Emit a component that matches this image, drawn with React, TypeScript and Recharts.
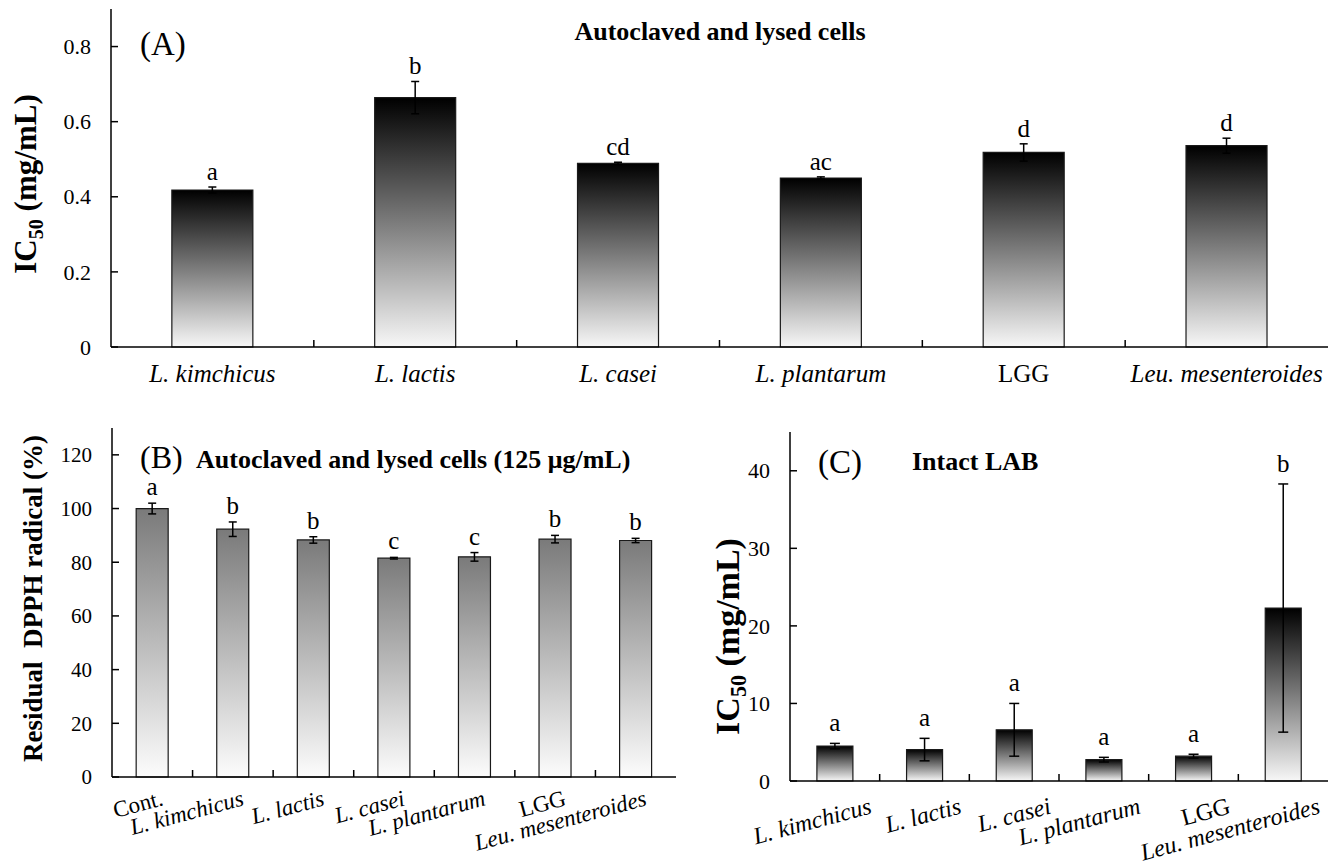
import React from 'react';
import { BarChart, Bar, XAxis, YAxis, ErrorBar, LabelList } from 'recharts';

const FONT = "'Liberation Serif', 'Times New Roman', serif";

// strains (panel A and C), panel B adds the control
const strains = ['L. kimchicus', 'L. lactis', 'L. casei', 'L. plantarum', 'LGG', 'Leu. mesenteroides'];
const strainsB = ['Cont.', 'L. kimchicus', 'L. lactis', 'L. casei', 'L. plantarum', 'LGG', 'Leu. mesenteroides'];

// (A) autoclaved and lysed cells, IC50 mg/mL
const ic50Lysed = [0.418, 0.664, 0.489, 0.45, 0.518, 0.536];
const ic50LysedSd = [0.008, 0.043, 0.003, 0.003, 0.023, 0.02];
const lettersA = ['a', 'b', 'cd', 'ac', 'd', 'd'];
const ticksA = [0, 0.2, 0.4, 0.6, 0.8];

// (B) residual DPPH radical %, 125 ug/mL
const dpphResidual = [100, 92.3, 88.3, 81.5, 82, 88.6, 88.1];
const dpphSd = [2, 2.7, 1.2, 0.3, 1.6, 1.4, 0.8];
const lettersB = ['a', 'b', 'b', 'c', 'c', 'b', 'b'];
const ticksB = [0, 20, 40, 60, 80, 100, 120];

// (C) intact LAB, IC50 mg/mL
const ic50Intact = [4.5, 4.05, 6.6, 2.75, 3.2, 22.3];
const ic50IntactSd = [0.35, 1.45, 3.4, 0.3, 0.25, 16];
const lettersC = ['a', 'a', 'a', 'a', 'a', 'b'];
const ticksC = [0, 10, 20, 30, 40];

const rows = (names: string[], vals: number[], sd: number[]) =>
  names.map((name, i) => ({ name, value: vals[i], sd: sd[i] }));

const isItalic = (s: string) => s !== 'LGG' && s !== 'Cont.';

function makeYTick(margin: number, size: number, fmt: (v: number) => string) {
  return (p: any) => {
    const ax = p.x + margin;
    return (
      <g>
        <line x1={ax} x2={ax + 7} y1={p.y} y2={p.y} stroke="#000" strokeWidth={1.5} />
        <text x={p.x} y={p.y} dy="0.35em" textAnchor="end" fontFamily={FONT} fontSize={size} fill="#000">
          {fmt(p.payload.value)}
        </text>
      </g>
    );
  };
}

function makeXTick(margin: number, band: number, count: number, size: number, rot: number, dx: number, dy: number) {
  return (p: any) => {
    const axisY = p.y - margin;
    const label = String(p.payload.value);
    const tx = p.x + dx;
    const ty = axisY + dy;
    return (
      <g>
        {p.index < count - 1 && (
          <line x1={p.x + band / 2} x2={p.x + band / 2} y1={axisY} y2={axisY - 7} stroke="#000" strokeWidth={1.5} />
        )}
        <text
          x={tx}
          y={ty}
          textAnchor={rot ? 'end' : 'middle'}
          transform={rot ? `rotate(${rot}, ${tx}, ${ty})` : undefined}
          fontFamily={FONT}
          fontSize={size}
          fontStyle={isItalic(label) ? 'italic' : 'normal'}
          fill="#000"
        >
          {label}
        </text>
      </g>
    );
  };
}

function makeLetter(letters: string[], vals: number[], sd: number[], gap: number, size: number) {
  return (p: any) => {
    const i = p.index;
    const pxPerUnit = p.height / vals[i];
    const top = p.y - sd[i] * pxPerUnit;
    return (
      <text x={p.x + p.width / 2} y={top - gap} textAnchor="middle" fontFamily={FONT} fontSize={size} fill="#000">
        {letters[i]}
      </text>
    );
  };
}

function ic50Label(cx: number, shift: number, size: number) {
  return (p: any) => {
    const vb = p.viewBox;
    const cy = vb.y + vb.height / 2 + shift;
    return (
      <text
        x={cx}
        y={cy}
        dy="0.35em"
        transform={`rotate(-90, ${cx}, ${cy})`}
        textAnchor="middle"
        fontFamily={FONT}
        fontWeight="bold"
        fontSize={size}
        fill="#000"
      >
        IC<tspan fontSize={size * 0.65} dy={size * 0.22}>50</tspan>
        <tspan dy={-size * 0.22}> (mg/mL)</tspan>
      </text>
    );
  };
}

const frame = { stroke: '#000', strokeWidth: 1.5 };

export default function App() {
  const dataA = rows(strains, ic50Lysed, ic50LysedSd);
  const dataB = rows(strainsB, dpphResidual, dpphSd);
  const dataC = rows(strains, ic50Intact, ic50IntactSd);

  return (
    <div style={{ position: 'absolute', left: 0, top: 0, width: 1340, height: 866, background: '#fff' }}>
      {/* (A) */}
      <div style={{ position: 'absolute', left: 0, top: 0 }}>
        <BarChart width={1340} height={400} data={dataA} margin={{ top: 9, right: 12, bottom: 0, left: 0 }} barCategoryGap="30%">
          <defs>
            <linearGradient id="gA" x1="0" y1="0" x2="0" y2="1">
              <stop offset="0%" stopColor="#000" />
              <stop offset="100%" stopColor="#f7f7f7" />
            </linearGradient>
          </defs>
          <XAxis dataKey="name" interval={0} height={53} tickSize={0} tickMargin={35} axisLine={frame}
            tick={makeXTick(35, 1217 / 6, 6, 25, 0, 0, 35)} />
          <XAxis xAxisId="top" dataKey="name" orientation="top" height={0} tick={false} tickLine={false} axisLine={frame} />
          <YAxis domain={[0, 0.9]} ticks={ticksA} width={111} tickSize={0} tickMargin={20} axisLine={frame}
            tick={makeYTick(20, 22, (v) => (v === 0 ? '0' : v.toFixed(1)))}
            label={{ content: ic50Label(25, 6, 31) }} />
          <YAxis yAxisId="right" orientation="right" width={0} domain={[0, 1]} tick={false} tickLine={false} axisLine={frame} />
          <Bar dataKey="value" fill="url(#gA)" stroke="#1a1a1a" strokeWidth={1.2} isAnimationActive={false}>
            <ErrorBar dataKey="sd" width={4} stroke="#000" strokeWidth={1.5} />
            <LabelList dataKey="value" content={makeLetter(lettersA, ic50Lysed, ic50LysedSd, 7, 25)} />
          </Bar>
          <text x={140} y={55} fontFamily={FONT} fontSize={33} fill="#000">(A)</text>
          <text x={720} y={40} textAnchor="middle" fontFamily={FONT} fontWeight="bold" fontSize={26} fill="#000">
            Autoclaved and lysed cells
          </text>
        </BarChart>
      </div>

      {/* (B) */}
      <div style={{ position: 'absolute', left: 0, top: 400 }}>
        <BarChart width={690} height={466} data={dataB} margin={{ top: 28, right: 14, bottom: 0, left: 0 }} barCategoryGap="30%">
          <defs>
            <linearGradient id="gB" x1="0" y1="0" x2="0" y2="1">
              <stop offset="0%" stopColor="#7a7a7a" />
              <stop offset="100%" stopColor="#fcfcfc" />
            </linearGradient>
          </defs>
          <XAxis dataKey="name" interval={0} height={89} tickSize={0} tickMargin={28} axisLine={frame}
            tick={makeXTick(28, 564 / 7, 7, 23, -15, 12, 28)} />
          <XAxis xAxisId="top" dataKey="name" orientation="top" height={0} tick={false} tickLine={false} axisLine={frame} />
          <YAxis domain={[0, 130]} ticks={ticksB} width={112} tickSize={0} tickMargin={20} axisLine={frame}
            tick={makeYTick(20, 21, (v) => String(v))}
            label={{
              content: (p: any) => {
                const cy = p.viewBox.y + p.viewBox.height / 2 - 4;
                return (
                  <text x={33} y={cy} dy="0.35em" transform={`rotate(-90, 33, ${cy})`} textAnchor="middle"
                    fontFamily={FONT} fontWeight="bold" fontSize={27} fill="#000" style={{ whiteSpace: 'pre' }}>
                    {'Residual  DPPH radical (%)'}
                  </text>
                );
              },
            }} />
          <YAxis yAxisId="right" orientation="right" width={0} domain={[0, 1]} tick={false} tickLine={false} axisLine={frame} />
          <Bar dataKey="value" fill="url(#gB)" stroke="#1a1a1a" strokeWidth={1.2} isAnimationActive={false}>
            <ErrorBar dataKey="sd" width={4} stroke="#000" strokeWidth={1.5} />
            <LabelList dataKey="value" content={makeLetter(lettersB, dpphResidual, dpphSd, 8, 25)} />
          </Bar>
          <text x={140} y={68} fontFamily={FONT} fontSize={32} fill="#000">(B)</text>
          <text x={196} y={68} fontFamily={FONT} fontWeight="bold" fontSize={26} fill="#000">
            Autoclaved and lysed cells (125 μg/mL)
          </text>
        </BarChart>
      </div>

      {/* (C) */}
      <div style={{ position: 'absolute', left: 690, top: 400 }}>
        <BarChart width={650} height={466} data={dataC} margin={{ top: 32, right: 12, bottom: 0, left: 0 }} barCategoryGap="30%">
          <defs>
            <linearGradient id="gC" x1="0" y1="0" x2="0" y2="1">
              <stop offset="0%" stopColor="#000" />
              <stop offset="100%" stopColor="#f7f7f7" />
            </linearGradient>
          </defs>
          <XAxis dataKey="name" interval={0} height={85} tickSize={0} tickMargin={32} axisLine={frame}
            tick={makeXTick(32, 538 / 6, 6, 24, -15, 38, 32)} />
          <XAxis xAxisId="top" dataKey="name" orientation="top" height={0} tick={false} tickLine={false} axisLine={frame} />
          <YAxis domain={[0, 45]} ticks={ticksC} width={100} tickSize={0} tickMargin={20} axisLine={frame}
            tick={makeYTick(20, 22, (v) => String(v))}
            label={{ content: ic50Label(37, 30, 34) }} />
          <YAxis yAxisId="right" orientation="right" width={0} domain={[0, 1]} tick={false} tickLine={false} axisLine={frame} />
          <Bar dataKey="value" fill="url(#gC)" stroke="#1a1a1a" strokeWidth={1.2} isAnimationActive={false}>
            <ErrorBar dataKey="sd" width={5} stroke="#000" strokeWidth={1.5} />
            <LabelList dataKey="value" content={makeLetter(lettersC, ic50Intact, ic50IntactSd, 12, 25)} />
          </Bar>
          <text x={128} y={73} fontFamily={FONT} fontSize={33} fill="#000">(C)</text>
          <text x={222} y={70} fontFamily={FONT} fontWeight="bold" fontSize={26} fill="#000">Intact LAB</text>
        </BarChart>
      </div>
    </div>
  );
}
